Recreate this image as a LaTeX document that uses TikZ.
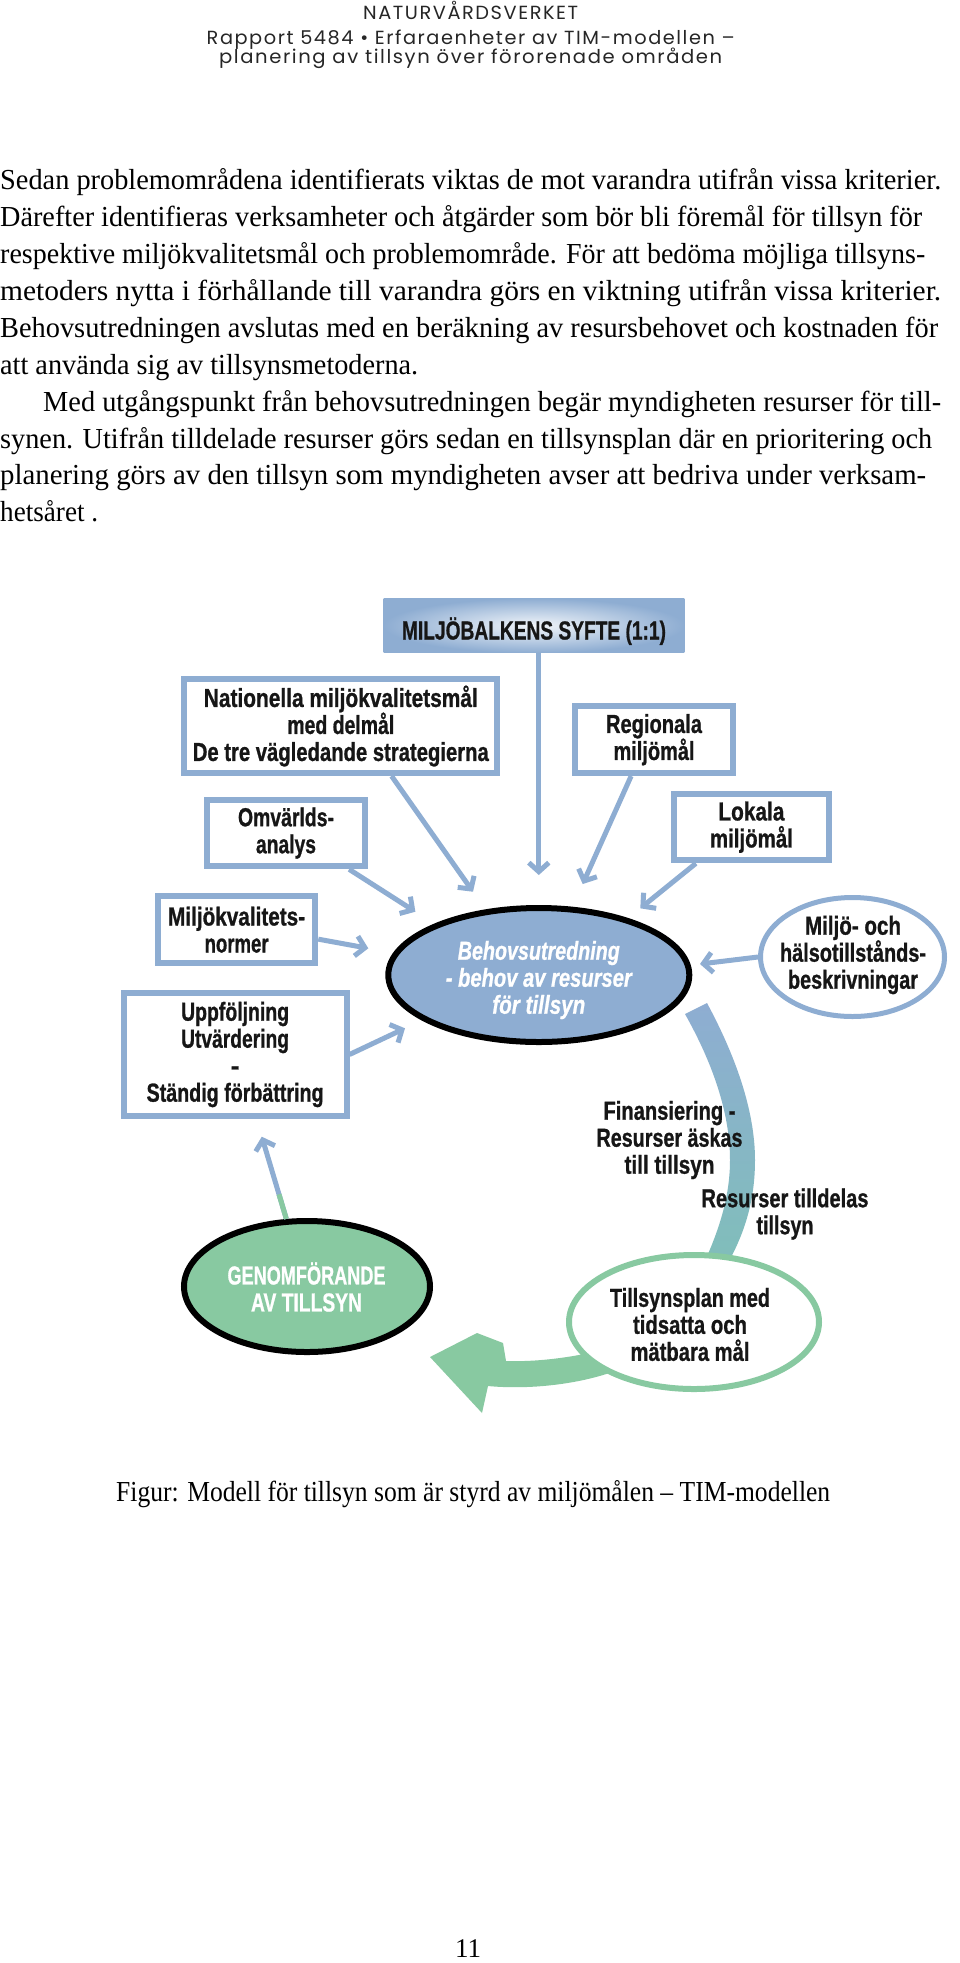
\documentclass[tikz,border=0pt]{standalone}
\usepackage{fontspec}
\setmainfont{Liberation Serif}
\newfontfamily\dfont{Liberation Sans}[BoldFeatures={FakeBold=1}, BoldItalicFeatures={FakeBold=1}]
\newfontfamily\hfont{Poppins}[LetterSpace=8]
\usetikzlibrary{arrows.meta,calc,backgrounds,shapes.geometric}
\definecolor{bblue}{RGB}{142,173,210}
\definecolor{grn}{RGB}{136,201,161}
\definecolor{arcteal}{RGB}{128,190,186}
\definecolor{ink}{RGB}{22,22,22}
\newsavebox\fitbox
\newlength\fitlen
\newcommand\fitx[2]{\sbox\fitbox{#2}\setlength\fitlen{\wd\fitbox}\pgfmathsetmacro\fitfac{#1/\fitlen}\scalebox{\fitfac}[1]{\usebox\fitbox}}
\tikzset{
  box/.style={draw=bblue, line width=6pt, fill=white, inner sep=0pt, align=center, text=ink,
    font=\dfont\bfseries\fontsize{26}{27}\selectfont},
  oval/.style={ellipse, inner sep=0pt, line width=6pt},
  lbl/.style={inner sep=0pt, align=center, text=ink, font=\dfont\bfseries\fontsize{26}{27}\selectfont},
  arr/.style={draw=bblue, line width=5pt, -{Straight Barb[length=9pt,width=20pt]}},
  bodytext/.style={anchor=base west, inner sep=0pt, font=\fontsize{29}{37}\selectfont, text=black},
  headtext/.style={anchor=base west, inner sep=0pt, font=\hfont\fontsize{19}{22}\selectfont, text=black!85},
}
\begin{document}
\begin{tikzpicture}[x=1pt,y=-1pt]
\useasboundingbox (0,0) rectangle (960,1963);

% header
\node[headtext] (h1) at (363,19.3) {\fitx{215}{NATURVÅRDSVERKET}};
\node[headtext] (h2) at (206.5,44.3) {\fitx{528}{Rapport 5484 • Erfaraenheter av TIM-modellen –}};
\node[headtext] (h3) at (219,63) {\fitx{503}{planering av tillsyn över förorenade områden}};

% body text
\node[bodytext] (p1) at (0,189.7) {\fitx{941}{Sedan problemområdena identifierats viktas de mot varandra utifrån vissa kriterier.}};
\node[bodytext] (p2) at (0,226.6) {\fitx{922}{Därefter identifieras verksamheter och åtgärder som bör bli föremål för tillsyn för}};
\node[bodytext] (p3) at (0,263.5) {\fitx{925}{respektive miljökvalitetsmål och problemområde. För att bedöma möjliga tillsyns-}};
\node[bodytext] (p4) at (0,300.4) {\fitx{941}{metoders nytta i förhållande till varandra görs en viktning utifrån vissa kriterier.}};
\node[bodytext] (p5) at (0,337.3) {\fitx{938}{Behovsutredningen avslutas med en beräkning av resursbehovet och kostnaden för}};
\node[bodytext] (p6) at (0,374.2) {\fitx{418}{att använda sig av tillsynsmetoderna.}};
\node[bodytext] (p7) at (43,411.1) {\fitx{898}{Med utgångspunkt från behovsutredningen begär myndigheten resurser för till-}};
\node[bodytext] (p8) at (0,448) {\fitx{932}{synen. Utifrån tilldelade resurser görs sedan en tillsynsplan där en prioritering och}};
\node[bodytext] (p9) at (0,484.9) {\fitx{926}{planering görs av den tillsyn som myndigheten avser att bedriva under verksam-}};
\node[bodytext] (p10) at (0,521.8) {\fitx{98}{hetsåret .}};

% boxes
\node[inner sep=0pt, minimum width=300.6pt, minimum height=54.4pt, shade, shading=radial,
  inner color=white!88!bblue, outer color=bblue, text=ink,
  font=\dfont\bfseries\fontsize{26}{27}\selectfont, text height=28pt, text depth=0pt]
  (syfte) at (534,625.5) {\fitx{264}{MILJÖBALKENS SYFTE (1:1)}};
\node[box, minimum width=313.2pt, minimum height=94pt] (nat) at (340.8,726)
  {\fitx{274}{Nationella miljökvalitetsmål}\\\fitx{107}{med delmål}\\\fitx{296}{De tre vägledande strategierna}};
\node[box, minimum width=158.6pt, minimum height=66.7pt] (reg) at (654,739.7)
  {\fitx{96}{Regionala}\\\fitx{81}{miljömål}};
\node[box, minimum width=157.5pt, minimum height=66.6pt] (omv) at (286,833)
  {\fitx{96}{Omvärlds-}\\\fitx{60}{analys}};
\node[box, minimum width=155.8pt, minimum height=66.3pt] (lok) at (751.4,827.2)
  {\fitx{66}{Lokala}\\\fitx{83}{miljömål}};
\node[box, minimum width=157.4pt, minimum height=66.7pt] (mkn) at (236.6,929.7)
  {\fitx{137}{Miljökvalitets-}\\\fitx{64}{normer}};
\node[box, minimum width=222.8pt, minimum height=123pt] (upp) at (235.1,1054.5)
  {\fitx{108}{Uppföljning}\\\fitx{108}{Utvärdering}\\-\\\fitx{177}{Ständig förbättring}};

% ellipses
\node[oval, draw=black, fill=bblue, minimum width=301pt, minimum height=134pt] (cen) at (538.8,975) {};
\node[lbl, text=white, font=\dfont\bfseries\itshape\fontsize{26}{27}\selectfont] (cenT) at (538.8,980)
  {\fitx{162}{Behovsutredning}\\\fitx{186}{- behov av resurser}\\\fitx{93}{för tillsyn}};
\node[oval, draw=bblue, line width=5pt, fill=white, minimum width=184pt, minimum height=119pt] (mhb) at (852.5,957) {};
\node[lbl] (mhbT) at (853,955)
  {\fitx{96}{Miljö- och}\\\fitx{146}{hälsotillstånds-}\\\fitx{130}{beskrivningar}};
\node[oval, draw=grn, fill=white, minimum width=250pt, minimum height=134pt] (tsp) at (694,1322) {};
\node[lbl] (tspT) at (690,1324.5)
  {\fitx{160}{Tillsynsplan med}\\\fitx{114}{tidsatta och}\\\fitx{119}{mätbara mål}};
\node[oval, draw=black, fill=grn, minimum width=246pt, minimum height=131pt] (gen) at (307,1286.5) {};
\node[lbl, text=white] (genT) at (306.5,1287)
  {\fitx{158}{GENOMFÖRANDE}\\\fitx{111}{AV TILLSYN}};

% background shapes: white page, arc and green arrow
\begin{scope}[on background layer]
\fill[white] (0,0) rectangle (960,1963);
\shade[top color=bblue, bottom color=arcteal]
  (707,1003) .. controls (735,1055) and (755,1110) .. (755,1160)
  .. controls (755,1200) and (745,1232) .. (728,1263)
  -- (704,1263) .. controls (720,1228) and (730,1195) .. (730,1160)
  .. controls (730,1112) and (712,1062) .. (685,1014) -- cycle;
\fill[grn] (602,1350) .. controls (570,1358) and (535,1362) .. (506,1361)
  -- (503,1343) -- (477,1333) -- (430,1357) -- (482,1413) -- (488,1386)
  .. controls (530,1390) and (580,1384) .. (615,1371) -- cycle;
\end{scope}

% labels on the arc
\node[lbl] (finT) at (669.5,1140) {\fitx{132}{Finansiering -}\\\fitx{146}{Resurser äskas}\\\fitx{90}{till tillsyn}};
\node[lbl] (resT) at (785,1214) {\fitx{167}{Resurser tilldelas}\\\fitx{57}{tillsyn}};

% connectors
\coordinate (tTop) at (538.8,875);
\coordinate (tNat) at (473,891.7);
\coordinate (tReg) at (582.7,884);
\coordinate (tOmv) at (415.4,911.7);
\coordinate (tLok) at (640.3,908.3);
\coordinate (tMkn) at (368.3,948.3);
\coordinate (tUpp) at (405,1028.3);
\coordinate (tMhb) at (700,964);
\coordinate (tGen) at (261.8,1136.7);
\draw[arr] (syfte.south -| tTop) -- (tTop);
\draw[arr] ($(nat.south west)!0.659!(nat.south east)$) -- (tNat);
\draw[arr] ($(reg.south west)!0.361!(reg.south east)$) -- (tReg);
\draw[arr] ($(omv.south west)!0.886!(omv.south east)$) -- (tOmv);
\draw[arr] ($(lok.south west)!0.157!(lok.south east)$) -- (tLok);
\draw[arr] ($(mkn.north east)!0.63!(mkn.south east)$) -- (tMkn);
\draw[arr] (upp.east) -- (tUpp);
\draw[arr] (mhb.west) -- (tMhb);
\draw[arr] (gen.107) -- (tGen);
\draw[grn, line width=5pt] (gen.107) -- ($(gen.107)!0.3!(tGen)$);

% caption and page number
\node[bodytext] (cap) at (116,1501) {\fitx{714}{Figur: Modell för tillsyn som är styrd av miljömålen – TIM-modellen}};
\node[bodytext, anchor=base, font=\fontsize{27}{30}\selectfont] (pg) at (468,1957) {11};
\end{tikzpicture}
\end{document}
